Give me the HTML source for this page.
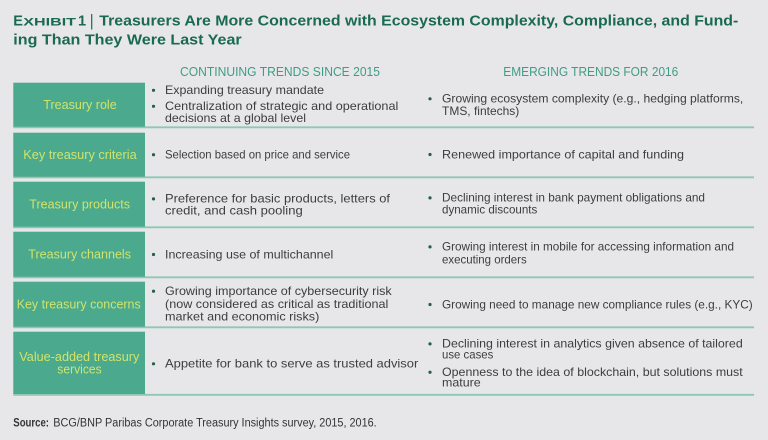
<!DOCTYPE html>
<html>
<head>
<meta charset="utf-8">
<style>
html,body{margin:0;padding:0;background:#e7e7e9;}
svg{display:block;}
text{font-family:"Liberation Sans",Arial,sans-serif;}
.t{font-size:12px;fill:#3d3d3d;}
.lb{font-size:12.5px;fill:#cfe46c;}
.hd{font-size:12.5px;fill:#3f9d81;}
.ti{font-size:14.5px;font-weight:bold;fill:#1a6a50;}
</style>
</head>
<body>
<svg width="768" height="440" viewBox="0 0 768 440" xmlns="http://www.w3.org/2000/svg">
<rect x="0" y="0" width="768" height="440" fill="#e7e7e9"/>

<!-- Title -->
<text class="ti" x="13.3" y="25.7">E</text>
<text class="ti" x="23.3" y="25.7" style="font-size:11px" textLength="52.7" lengthAdjust="spacingAndGlyphs">XHIBIT</text>
<text class="ti" x="78" y="25.7">1</text>
<line x1="91.7" y1="14" x2="91.7" y2="29.5" stroke="#1a6a50" stroke-width="1.2"/>
<text class="ti" x="99.3" y="25.7" textLength="639" lengthAdjust="spacingAndGlyphs">Treasurers Are More Concerned with Ecosystem Complexity, Compliance, and Fund-</text>
<text class="ti" x="13.3" y="44.5" textLength="228.4" lengthAdjust="spacingAndGlyphs">ing Than They Were Last Year</text>

<!-- Headers -->
<text class="hd" x="180" y="76" textLength="200" lengthAdjust="spacingAndGlyphs">CONTINUING TRENDS SINCE 2015</text>
<text class="hd" x="503.3" y="76" textLength="175" lengthAdjust="spacingAndGlyphs">EMERGING TRENDS FOR 2016</text>

<!-- Row lines -->
<g stroke="#8ec7b2" stroke-width="1.8">
<line x1="13.3" y1="127.3" x2="754" y2="127.3"/>
<line x1="13.3" y1="177.3" x2="754" y2="177.3"/>
<line x1="13.3" y1="227.3" x2="754" y2="227.3"/>
<line x1="13.3" y1="277.3" x2="754" y2="277.3"/>
<line x1="13.3" y1="327.3" x2="754" y2="327.3"/>
<line x1="13.3" y1="394.8" x2="754" y2="394.8"/>
</g>

<!-- Boxes -->
<g fill="#4ba98d">
<rect x="13.3" y="82.7" width="131.7" height="44"/>
<rect x="13.3" y="132.7" width="131.7" height="44"/>
<rect x="13.3" y="181.7" width="131.7" height="45"/>
<rect x="13.3" y="231.7" width="131.7" height="45"/>
<rect x="13.3" y="281.7" width="131.7" height="45"/>
<rect x="13.3" y="331.7" width="131.7" height="62.3"/>
</g>

<!-- Labels -->
<text class="lb" x="43.3" y="108.8" textLength="73.4" lengthAdjust="spacingAndGlyphs">Treasury role</text>
<text class="lb" x="23.3" y="159" textLength="113.4" lengthAdjust="spacingAndGlyphs">Key treasury criteria</text>
<text class="lb" x="29.3" y="208.5" textLength="100.7" lengthAdjust="spacingAndGlyphs">Treasury products</text>
<text class="lb" x="28.3" y="258.5" textLength="102.7" lengthAdjust="spacingAndGlyphs">Treasury channels</text>
<text class="lb" x="16.7" y="308.5" textLength="124" lengthAdjust="spacingAndGlyphs">Key treasury concerns</text>
<text class="lb" x="19.3" y="361" textLength="120" lengthAdjust="spacingAndGlyphs">Value-added treasury</text>
<text class="lb" x="57.3" y="373.7" textLength="44.4" lengthAdjust="spacingAndGlyphs">services</text>

<!-- Bullets -->
<g fill="#235f4b">
<circle cx="153.5" cy="90.3" r="1.6"/>
<circle cx="153.5" cy="106.3" r="1.6"/>
<circle cx="153.5" cy="154.7" r="1.6"/>
<circle cx="153.5" cy="198.9" r="1.6"/>
<circle cx="153.5" cy="254.5" r="1.6"/>
<circle cx="153.5" cy="291.2" r="1.6"/>
<circle cx="153.5" cy="363.8" r="1.6"/>

<circle cx="430" cy="98.8" r="1.6"/>
<circle cx="430" cy="154.5" r="1.6"/>
<circle cx="430" cy="197.9" r="1.6"/>
<circle cx="430" cy="246.9" r="1.6"/>
<circle cx="430" cy="304.5" r="1.6"/>
<circle cx="430" cy="343.9" r="1.6"/>
<circle cx="430" cy="372.2" r="1.6"/>
</g>

<!-- Left column text -->
<text class="t" x="165" y="94" textLength="159" lengthAdjust="spacingAndGlyphs">Expanding treasury mandate</text>
<text class="t" x="165" y="110" textLength="233.3" lengthAdjust="spacingAndGlyphs">Centralization of strategic and operational</text>
<text class="t" x="165" y="122" textLength="141" lengthAdjust="spacingAndGlyphs">decisions at a global level</text>
<text class="t" x="165" y="158.5" textLength="185" lengthAdjust="spacingAndGlyphs">Selection based on price and service</text>
<text class="t" x="165" y="202.7" textLength="225" lengthAdjust="spacingAndGlyphs">Preference for basic products, letters of</text>
<text class="t" x="165" y="214.3" textLength="137.7" lengthAdjust="spacingAndGlyphs">credit, and cash pooling</text>
<text class="t" x="165" y="258.3" textLength="168.3" lengthAdjust="spacingAndGlyphs">Increasing use of multichannel</text>
<text class="t" x="165" y="295" textLength="226.7" lengthAdjust="spacingAndGlyphs">Growing importance of cybersecurity risk</text>
<text class="t" x="165" y="308" textLength="223.3" lengthAdjust="spacingAndGlyphs">(now considered as critical as traditional</text>
<text class="t" x="165" y="320.7" textLength="154.3" lengthAdjust="spacingAndGlyphs">market and economic risks)</text>
<text class="t" x="165" y="367.5" textLength="253.3" lengthAdjust="spacingAndGlyphs">Appetite for bank to serve as trusted advisor</text>

<!-- Right column text -->
<text class="t" x="442" y="102.5" textLength="301.3" lengthAdjust="spacingAndGlyphs">Growing ecosystem complexity (e.g., hedging platforms,</text>
<text class="t" x="442" y="115" textLength="77.3" lengthAdjust="spacingAndGlyphs">TMS, fintechs)</text>
<text class="t" x="442" y="158.3" textLength="242" lengthAdjust="spacingAndGlyphs">Renewed importance of capital and funding</text>
<text class="t" x="442" y="201.7" textLength="263" lengthAdjust="spacingAndGlyphs">Declining interest in bank payment obligations and</text>
<text class="t" x="442" y="213.3" textLength="95.3" lengthAdjust="spacingAndGlyphs">dynamic discounts</text>
<text class="t" x="442" y="250.7" textLength="292" lengthAdjust="spacingAndGlyphs">Growing interest in mobile for accessing information and</text>
<text class="t" x="442" y="263.3" textLength="84.7" lengthAdjust="spacingAndGlyphs">executing orders</text>
<text class="t" x="442" y="308.3" textLength="310.7" lengthAdjust="spacingAndGlyphs">Growing need to manage new compliance rules (e.g., KYC)</text>
<text class="t" x="442" y="347.7" textLength="300.7" lengthAdjust="spacingAndGlyphs">Declining interest in analytics given absence of tailored</text>
<text class="t" x="442" y="358.5" textLength="51.3" lengthAdjust="spacingAndGlyphs">use cases</text>
<text class="t" x="442" y="376" textLength="300.7" lengthAdjust="spacingAndGlyphs">Openness to the idea of blockchain, but solutions must</text>
<text class="t" x="442" y="386.7" textLength="38.7" lengthAdjust="spacingAndGlyphs">mature</text>

<!-- Source -->
<text x="13.3" y="426.7" style="font-size:11.5px;font-weight:bold;fill:#333" textLength="35.7" lengthAdjust="spacingAndGlyphs">Source:</text>
<text x="53.3" y="426.7" style="font-size:11.5px;fill:#333" textLength="323.4" lengthAdjust="spacingAndGlyphs">BCG/BNP Paribas Corporate Treasury Insights survey, 2015, 2016.</text>
</svg>
</body>
</html>
